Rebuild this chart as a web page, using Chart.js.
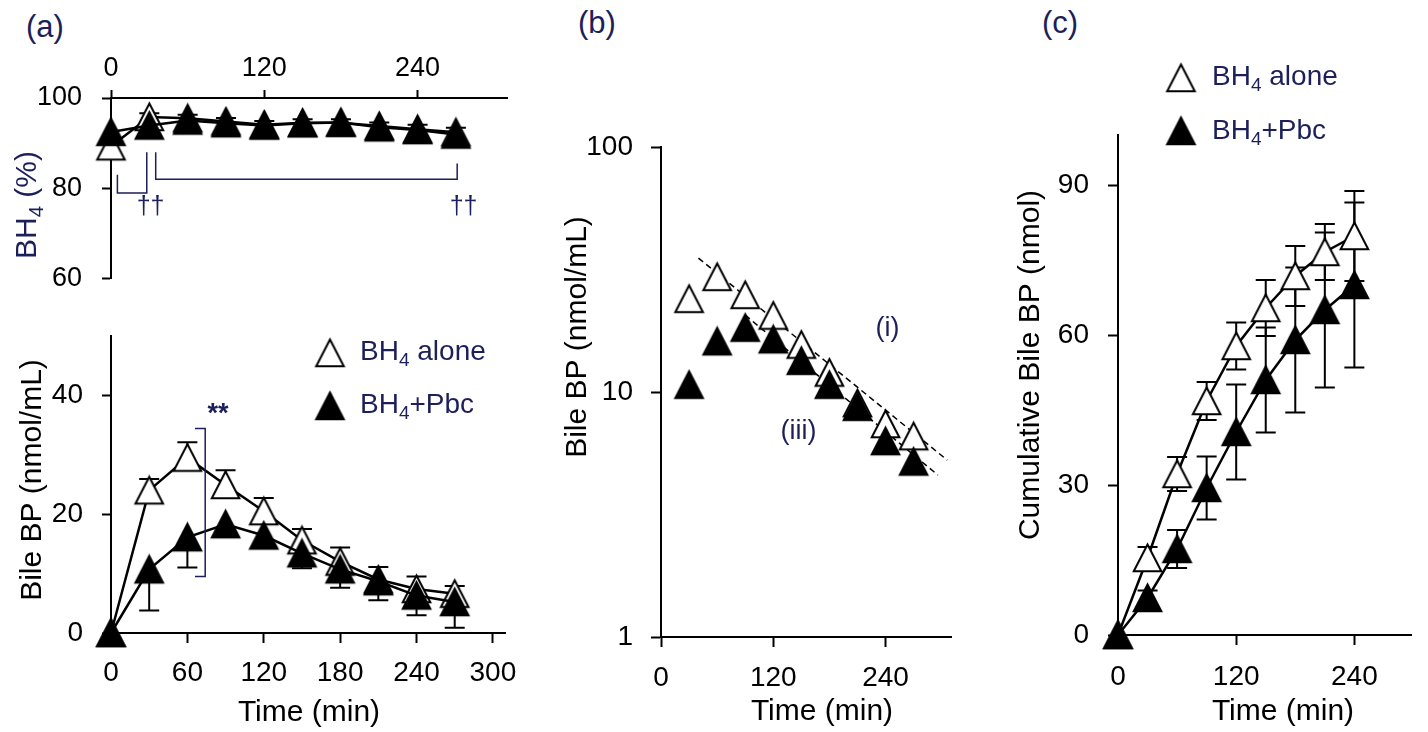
<!DOCTYPE html>
<html>
<head>
<meta charset="utf-8">
<script src="https://cdn.jsdelivr.net/npm/chart.js@4.4.1/dist/chart.umd.min.js"></script>
<style>
  body { margin: 0; background: #fff; width: 1428px; height: 732px; position: relative; overflow: hidden;
         font-family: "Liberation Sans", Arial, sans-serif; }
  canvas { position: absolute; }
  .panel { position: absolute; font-size: 31px; line-height: 31px; color: #1c1f5a; }
</style>
</head>
<body>
<div class="panel" style="left:26px;top:11px">(a)</div>
<div class="panel" style="left:578px;top:7px">(b)</div>
<div class="panel" style="left:1042px;top:7px">(c)</div>

<canvas id="a1" width="530" height="275" style="left:0;top:40px"></canvas>
<canvas id="a2" width="530" height="432" style="left:0;top:300px"></canvas>
<canvas id="b" width="440" height="692" style="left:540px;top:40px"></canvas>
<canvas id="c" width="438" height="692" style="left:990px;top:40px"></canvas>

<script>
'use strict';

const FONT = '"Liberation Sans", Arial, sans-serif';
const NAVY = '#1c1f5a';

// time points (min) for panels (a) and (b)
const times = [0, 30, 60, 90, 120, 150, 180, 210, 240, 270];

// (a) top: BH4 (%)
const bh4Alone = [89.3, 95.8, 95.5, 94.8, 94.1, 94.5, 94.5, 93.8, 93.1, 92.4];
const bh4Pbc = [92.5, 93.9, 95.0, 94.4, 93.9, 94.4, 94.6, 93.5, 92.9, 91.9];
const bh4AloneSd = [0, 0.8, 0.8, 0.8, 0.8, 0.8, 0.8, 0.8, 1.0, 1.0];

// (a) bottom / (b): Bile BP (nmol/mL)
const bileAlone = [0, 24.0, 29.5, 24.9, 20.5, 15.6, 12.0, 9.0, 7.4, 6.6];
const bilePbc = [0, 10.7, 16.1, 18.3, 16.4, 13.4, 10.7, 8.7, 6.3, 5.2];
const bileAloneSdUp = [0, 1.9, 2.6, 2.5, 2.2, 1.9, 2.4, 2.1, 2.1, 1.3];
const bilePbcSdDown = [0, 6.9, 5.1, 0, 0, 2.5, 3.1, 3.2, 3.3, 4.3];

// (b): fitted elimination lines (i) and (iii)
const fitITimes = [40, 306];
const fitIValues = [35.2, 5.27];
const fitIIITimes = [90, 296];
const fitIIIValues = [20.6, 4.58];

// (c): cumulative Bile BP (nmol)
const timesCum = [0, 30, 60, 90, 120, 150, 180, 210, 240];
const cumAlone = [0, 15.4, 32.2, 46.8, 57.8, 65.4, 71.8, 76.6, 79.8];
const cumPbc = [0, 7.4, 17.2, 29.4, 40.6, 51.0, 59.0, 65.0, 70.0];
const cumAloneSd = [0, 2.2, 3.4, 3.8, 4.7, 5.6, 6.0, 5.6, 9.0];
const cumPbcSd = [0, 1.5, 3.8, 6.3, 9.5, 10.5, 14.5, 15.5, 16.5];

// tick labels
const ticksA1x = [0, 120, 240];
const ticksA1y = [60, 80, 100];
const ticksA2x = [0, 60, 120, 180, 240, 300];
const ticksA2y = [0, 20, 40];
const ticksBx = [0, 120, 240];
const ticksBy = [1, 10, 100];
const ticksCx = [0, 120, 240];
const ticksCy = [0, 30, 60, 90];

Chart.defaults.animation = false;
Chart.defaults.events = [];

// triangle markers, centred on their bounding box
function triangle(fill) {
  const c = document.createElement('canvas');
  c.width = 33; c.height = 32;
  const g = c.getContext('2d');
  g.beginPath();
  g.moveTo(16.5, 2.5);
  g.lineTo(30.3, 29.2);
  g.lineTo(2.7, 29.2);
  g.closePath();
  g.fillStyle = fill;
  g.fill();
  g.lineWidth = 2;
  g.strokeStyle = '#000';
  g.stroke();
  return c;
}
const openTri = triangle('#fff');
const fillTri = triangle('#000');

function points(xs, ys) {
  return xs.map((x, i) => ({ x: x, y: ys[i] }));
}

function series(xs, ys, marker, extra) {
  return Object.assign({
    data: points(xs, ys),
    borderColor: '#000',
    borderWidth: 2.5,
    pointStyle: marker,
    pointRadius: 14,
    clip: false,
    tension: 0,
    fill: false
  }, extra || {});
}

function axis(o) {
  return {
    type: o.type || 'linear',
    position: o.position,
    min: o.min,
    max: o.max,
    afterBuildTicks: s => { s.ticks = o.ticks.map(v => ({ value: v })); },
    afterFit: s => { if (s.isHorizontal()) s.height = o.size; else s.width = o.size; },
    grid: { drawOnChartArea: false, drawTicks: true, tickLength: o.tickLength, tickWidth: 2, tickColor: '#000' },
    border: { display: true, color: '#000', width: 2 },
    ticks: {
      color: '#000', font: { family: FONT, size: o.fontSize }, padding: o.pad,
      maxRotation: 0, autoSkip: false, callback: v => String(v)
    }
  };
}

// error bars, drawn under the markers
const errorBars = {
  id: 'errorBars',
  beforeDatasetsDraw(chart) {
    const ctx = chart.ctx, xs = chart.scales.x, ys = chart.scales.y;
    ctx.save();
    ctx.strokeStyle = '#000';
    ctx.lineWidth = 2;
    chart.data.datasets.forEach(ds => {
      if (!ds.errUp && !ds.errDown) return;
      ds.data.forEach((p, i) => {
        const up = ds.errUp ? ds.errUp[i] : 0;
        const dn = ds.errDown ? ds.errDown[i] : 0;
        if (!up && !dn) return;
        const px = xs.getPixelForValue(p.x);
        const y0 = ys.getPixelForValue(p.y + up);
        const y1 = ys.getPixelForValue(p.y - dn);
        ctx.beginPath();
        ctx.moveTo(px, y0); ctx.lineTo(px, y1);
        if (up) { ctx.moveTo(px - 10, y0); ctx.lineTo(px + 10, y0); }
        if (dn) { ctx.moveTo(px - 10, y1); ctx.lineTo(px + 10, y1); }
        ctx.stroke();
      });
    });
    ctx.restore();
  }
};

// text with "_" parts as subscripts
function rich(ctx, parts, x, y, size, color, align, rot, weight) {
  ctx.save();
  ctx.translate(x, y);
  if (rot) ctx.rotate(rot);
  ctx.fillStyle = color;
  ctx.textBaseline = 'middle';
  ctx.textAlign = 'left';
  const fontOf = p => (weight || '') + ' ' + (p[0] === '_' ? size * 0.68 : size) + 'px ' + FONT;
  let w = 0;
  parts.forEach(p => { ctx.font = fontOf(p); w += ctx.measureText(p.replace(/^_/, '')).width; });
  let cx = align === 'left' ? 0 : -w / 2;
  parts.forEach(p => {
    const t = p.replace(/^_/, '');
    ctx.font = fontOf(p);
    ctx.fillText(t, cx, p[0] === '_' ? size * 0.3 : 0);
    cx += ctx.measureText(t).width;
  });
  ctx.restore();
}

// brackets, significance marks, axis titles and legends
const overlay = {
  id: 'overlay',
  afterDraw(chart, args, opts) {
    const ctx = chart.ctx, xs = chart.scales.x, ys = chart.scales.y;
    const ox = chart.canvas.offsetLeft, oy = chart.canvas.offsetTop;
    (opts.lines || []).forEach(l => {
      ctx.save();
      ctx.strokeStyle = l.color;
      ctx.lineWidth = l.width;
      ctx.beginPath();
      l.pts.forEach((p, i) => {
        const px = xs.getPixelForValue(p[0]), py = ys.getPixelForValue(p[1]);
        if (i === 0) ctx.moveTo(px, py); else ctx.lineTo(px, py);
      });
      ctx.stroke();
      ctx.restore();
    });
    (opts.marks || []).forEach(m => {
      rich(ctx, m.parts, xs.getPixelForValue(m.x), ys.getPixelForValue(m.y), m.size, NAVY, 'center', 0, m.weight);
    });
    (opts.titles || []).forEach(t => {
      rich(ctx, t.parts, t.x - ox, t.y - oy, t.size, t.color, 'center', t.rot || 0);
    });
    (opts.legend || []).forEach(l => {
      ctx.drawImage(l.marker, l.x - ox - l.marker.width / 2, l.y - oy - l.marker.height / 2);
      rich(ctx, l.parts, l.tx - ox, l.ty - oy, 28, NAVY, 'left', 0);
    });
  }
};

const basePlugins = { legend: { display: false }, tooltip: { enabled: false } };

// (a) top panel: BH4 (%)
new Chart(document.getElementById('a1'), {
  type: 'line',
  data: {
    datasets: [
      series(times, bh4Pbc, fillTri),
      series(times, bh4Alone, openTri, { errUp: bh4AloneSd })
    ]
  },
  options: {
    responsive: false,
    layout: { padding: { left: 0, top: 0, right: 23, bottom: 22 } },
    scales: {
      x: axis({ position: 'top', min: 0, max: 310, ticks: ticksA1x, size: 58, tickLength: 8, pad: 5, fontSize: 27 }),
      y: axis({ position: 'left', min: 60, max: 100, ticks: ticksA1y, size: 111, tickLength: 9, pad: 20, fontSize: 27 })
    },
    plugins: Object.assign({
      overlay: {
        lines: [
          { pts: [[5, 83], [5, 79], [28, 79], [28, 88]], color: NAVY, width: 1.5 },
          { pts: [[35, 88], [35, 82], [271, 82], [271, 85.5]], color: NAVY, width: 1.5 }
        ],
        marks: [
          { parts: ['††'], x: 31, y: 75.8, size: 25 },
          { parts: ['††'], x: 276, y: 75.8, size: 25 }
        ],
        titles: [
          { parts: ['BH', '_4', ' (%)'], x: 28, y: 205, size: 30, color: NAVY, rot: -Math.PI / 2 }
        ]
      }
    }, basePlugins)
  },
  plugins: [errorBars, overlay]
});

// (a) bottom panel: Bile BP
new Chart(document.getElementById('a2'), {
  type: 'line',
  data: {
    datasets: [
      series(times, bilePbc, fillTri, { errDown: bilePbcSdDown }),
      series(times, bileAlone, openTri, { errUp: bileAloneSdUp })
    ]
  },
  options: {
    responsive: false,
    layout: { padding: { left: 0, top: 28, right: 23, bottom: 0 } },
    scales: {
      x: axis({ position: 'bottom', min: 0, max: 310, ticks: ticksA2x, size: 99, tickLength: 10, pad: 13, fontSize: 28 }),
      y: axis({ position: 'left', min: 0, max: 50, ticks: ticksA2y, size: 111, tickLength: 9, pad: 19, fontSize: 28 })
    },
    plugins: Object.assign({
      overlay: {
        lines: [
          { pts: [[66, 34.4], [74, 34.4], [74, 9.5], [66, 9.5]], color: NAVY, width: 1.5 }
        ],
        marks: [
          { parts: ['**'], x: 84, y: 36.8, size: 27, weight: 'bold' }
        ],
        titles: [
          { parts: ['Bile BP (nmol/mL)'], x: 33, y: 480, size: 30, color: '#000', rot: -Math.PI / 2 },
          { parts: ['Time (min)'], x: 309, y: 713, size: 30, color: '#000' }
        ],
        legend: [
          { marker: openTri, x: 330, y: 353, parts: ['BH', '_4', ' alone'], tx: 360, ty: 352 },
          { marker: fillTri, x: 330, y: 406, parts: ['BH', '_4', '+Pbc'], tx: 360, ty: 405 }
        ]
      }
    }, basePlugins)
  },
  plugins: [errorBars, overlay]
});

// (b): semi-log plot
new Chart(document.getElementById('b'), {
  type: 'line',
  data: {
    datasets: [
      series(times.slice(1), bilePbc.slice(1), fillTri, { showLine: false }),
      series(times.slice(1), bileAlone.slice(1), openTri, { showLine: false }),
      { data: points(fitITimes, fitIValues), borderColor: '#000', borderWidth: 1.5, borderDash: [6, 4], pointRadius: 0, clip: false },
      { data: points(fitIIITimes, fitIIIValues), borderColor: '#000', borderWidth: 1.5, borderDash: [6, 4], pointRadius: 0, clip: false }
    ]
  },
  options: {
    responsive: false,
    layout: { padding: { left: 0, top: 107, right: 29, bottom: 0 } },
    scales: {
      x: axis({ position: 'bottom', min: 0, max: 310, ticks: ticksBx, size: 95, tickLength: 10, pad: 14, fontSize: 28 }),
      y: axis({ type: 'logarithmic', position: 'left', min: 1, max: 100, ticks: ticksBy, size: 121, tickLength: 10, pad: 18, fontSize: 28 })
    },
    plugins: Object.assign({
      overlay: {
        marks: [
          { parts: ['(i)'], x: 242, y: 18.2, size: 27 },
          { parts: ['(iii)'], x: 147, y: 6.87, size: 27 }
        ],
        titles: [
          { parts: ['Bile BP (nmol/mL)'], x: 578, y: 337, size: 30, color: '#000', rot: -Math.PI / 2 },
          { parts: ['Time (min)'], x: 822, y: 712, size: 30, color: '#000' }
        ]
      }
    }, basePlugins)
  },
  plugins: [overlay]
});

// (c): cumulative excretion
new Chart(document.getElementById('c'), {
  type: 'line',
  data: {
    datasets: [
      series(timesCum, cumPbc, fillTri, { errUp: cumPbcSd, errDown: cumPbcSd }),
      series(timesCum, cumAlone, openTri, { errUp: cumAloneSd, errDown: cumAloneSd })
    ]
  },
  options: {
    responsive: false,
    layout: { padding: { left: 0, top: 95, right: 7, bottom: 0 } },
    scales: {
      x: axis({ position: 'bottom', min: 0, max: 298, ticks: ticksCx, size: 97, tickLength: 10, pad: 15, fontSize: 28 }),
      y: axis({ position: 'left', min: 0, max: 100, ticks: ticksCy, size: 128, tickLength: 10, pad: 19, fontSize: 28 })
    },
    plugins: Object.assign({
      overlay: {
        titles: [
          { parts: ['Cumulative Bile BP (nmol)'], x: 1031, y: 365, size: 30, color: '#000', rot: -Math.PI / 2 },
          { parts: ['Time (min)'], x: 1283, y: 712, size: 30, color: '#000' }
        ],
        legend: [
          { marker: openTri, x: 1181, y: 78, parts: ['BH', '_4', ' alone'], tx: 1212, ty: 77 },
          { marker: fillTri, x: 1181, y: 131, parts: ['BH', '_4', '+Pbc'], tx: 1212, ty: 131 }
        ]
      }
    }, basePlugins)
  },
  plugins: [errorBars, overlay]
});
</script>
</body>
</html>
